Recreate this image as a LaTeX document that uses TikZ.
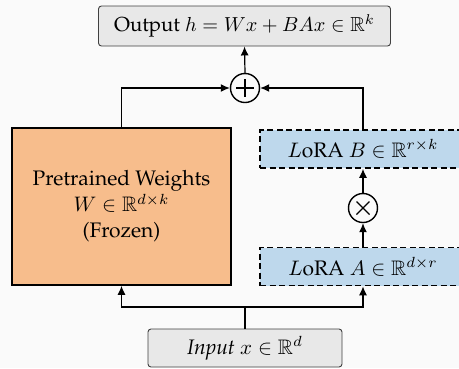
\documentclass[tikz,border=0pt]{standalone}
\usepackage[T1]{fontenc}
\usepackage{amssymb}
\usepackage{graphicx}
\renewcommand{\rmdefault}{ppl}
\usetikzlibrary{arrows.meta,calc}
\newcommand{\bigtxt}[2][2.1]{\scalebox{#1}{#2}}
\definecolor{bgc}{RGB}{250,250,250}
\definecolor{orangef}{RGB}{247,189,140}
\definecolor{bluef}{RGB}{190,216,236}
\definecolor{greyf}{RGB}{232,232,232}
\begin{document}
\begin{tikzpicture}[x=1pt,y=-1pt,
  greybox/.style={draw=black!75,line width=0.9pt,fill=greyf,rounded corners=3pt,inner sep=0pt},
  lorabox/.style={draw=black,line width=1.6pt,dash pattern=on 6pt off 3.5pt,fill=bluef,inner sep=0pt,minimum width=206pt,minimum height=38pt},
  opcirc/.style={draw=black,line width=1.4pt,circle,minimum size=29pt,inner sep=0pt},
  conn/.style={line width=1.2pt,-{Latex[length=9pt,width=8pt]}},
  plain/.style={line width=1.2pt}]
\useasboundingbox (0,0) rectangle (459,368);
\fill[bgc] (0,0) rectangle (459,368);
\node[greybox,minimum width=292pt,minimum height=40pt] (out) at (244.5,26) {\bigtxt[2.03]{Output $h = Wx + BAx \in \mathbb{R}^k$}};
\node[opcirc] (plus) at (245,88) {};
\draw[line width=1.4pt] ($(plus)+(-9,0)$) -- ($(plus)+(9,0)$) ($(plus)+(0,-9)$) -- ($(plus)+(0,9)$);
\node[draw=black,line width=1.6pt,fill=orangef,minimum width=219pt,minimum height=157pt,inner sep=0pt] (W) at (121.5,206.5) {\bigtxt{\begin{tabular}{@{}c@{}}Pretrained Weights\\[0.5pt]$W \in \mathbb{R}^{d\times k}$\\[0.5pt](Frozen)\end{tabular}}};
\node[lorabox] (B) at (363,149) {\bigtxt{$L$oRA $B \in \mathbb{R}^{r\times k}$}};
\node[opcirc] (times) at (363,208) {};
\draw[line width=1.4pt] ($(times)+(-6.5,-6.5)$) -- ($(times)+(6.5,6.5)$) ($(times)+(-6.5,6.5)$) -- ($(times)+(6.5,-6.5)$);
\node[lorabox] (A) at (363,266.5) {\bigtxt{$L$oRA $A \in \mathbb{R}^{d\times r}$}};
\node[greybox,minimum width=194pt,minimum height=38pt] (in) at (245,348) {\bigtxt{\textit{Input} $x \in \mathbb{R}^d$}};
\coordinate (j) at (245,307);
\draw[plain] (in.north) -- (j);
\draw[conn] (j) -| (W.south);
\draw[conn] (j) -| (A.south);
\draw[conn] (A.north) -- (times.south);
\draw[conn] (times.north) -- (B.north |- B.south);
\draw[conn] (W.north) |- (plus.west);
\draw[conn] (B.north) |- (plus.east);
\draw[conn] (plus.north) -- (out.south);
\end{tikzpicture}
\end{document}
